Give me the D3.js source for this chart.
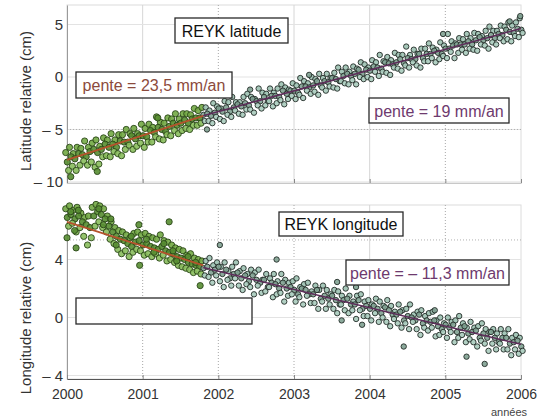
<!DOCTYPE html>
<html>
<head>
<meta charset="utf-8" />
<title>REYK latitude / longitude</title>
<script src="https://d3js.org/d3.v7.min.js"></script>
<style>
  body { margin: 0; background: #fff; }
  text { font-family: "Liberation Sans", Arial, Helvetica, sans-serif; }
</style>
</head>
<body>
<svg id="chart" width="552" height="420"></svg>
<script>
// years on the x axis
var years = [2000, 2001, 2002, 2003, 2004, 2005, 2006];
var latTicks = [5, 0, -5, -10];
var lonTicks = [4, 0, -4];

// readings taken every 0.05 yr from 2000.00 to 2006.00 (121 per band)
var firstYear = 2000, stepYear = 0.05;
// change of slope (green points before, grey points after)
var breakYear = 2001.8;

// latitude (cm): upper, middle and lower part of the cloud
var latA = [-7.2,-6.7,-7.3,-6.7,-6.8,-6.1,-6.7,-6.3,-6.0,-6.6,-5.8,-6.0,-5.4,-6.0,-5.5,-5.5,-5.0,-5.4,-4.9,-5.4,-4.5,-4.9,-4.5,-4.8,-3.8,-4.3,-4.4,-3.9,-4.0,-3.5,-4.0,-3.5,-3.5,-3.6,-3.0,-3.2,-2.9,
  -2.9,-3.2,-2.5,-2.8,-3.0,-2.3,-2.4,-1.9,-2.4,-2.4,-1.9,-1.6,-1.9,-2.1,-1.1,-1.5,-1.6,-1.1,-1.5,-1.1,-0.7,-1.0,-1.2,-0.6,-0.8,-0.1,-0.4,-0.6,0.0,-0.2,0.3,-0.1,0.3,-0.1,0.4,0.9,0.5,0.9,0.5,1.0,0.8,1.4,1.2,0.9,1.6,1.4,2.1,1.5,1.9,1.6,2.3,2.1,2.1,2.9,2.1,2.6,2.2,2.7,2.7,3.2,2.8,2.6,3.3,3.0,4.1,3.4,3.2,3.7,3.6,4.1,3.7,4.2,4.1,3.9,4.4,4.8,4.4,4.4,4.9,4.8,5.2,4.9,5.2,5.6];
var latB = [-8.1,-7.6,-7.8,-7.3,-7.4,-7.6,-7.1,-6.9,-7.2,-6.9,-6.4,-6.7,-6.4,-6.7,-6.1,-6.2,-6.2,-5.6,-5.9,-5.6,-5.6,-5.7,-5.1,-5.3,-4.8,-5.0,-5.2,-4.7,-4.4,-4.6,-4.4,-4.1,-4.4,-4.0,-3.9,-3.9,-3.6,
  -3.5,-3.7,-3.4,-3.0,-3.3,-2.9,-3.3,-2.9,-2.6,-2.8,-2.5,-2.7,-2.1,-2.3,-2.3,-1.9,-2.3,-1.8,-1.8,-1.9,-1.3,-1.6,-1.3,-1.3,-1.5,-0.9,-0.9,-1.0,-0.8,-0.4,-0.8,-0.4,-0.5,-0.1,-0.2,-0.4,0.1,0.3,0.1,0.3,0.7,0.3,0.7,0.6,1.0,0.9,0.8,1.4,1.3,1.2,1.4,1.7,1.3,1.8,1.7,1.7,2.2,1.8,2.2,2.2,2.5,2.3,2.2,2.7,2.7,3.0,3.1,3.1,3.1,3.4,3.1,3.5,3.8,3.5,3.7,4.0,3.7,4.1,4.0,4.5,4.3,4.2,4.6,4.5];
var latC = [-8.9,-8.5,-8.9,-8.4,-8.0,-8.4,-8.1,-8.6,-8.3,-7.6,-7.5,-7.6,-7.1,-7.3,-7.5,-6.9,-6.5,-6.9,-6.6,-6.3,-6.7,-6.2,-6.2,-5.7,-5.9,-6.0,-5.5,-5.6,-5.1,-5.4,-5.1,-4.9,-5.0,-4.6,-4.6,-4.4,-4.2,
  -4.2,-4.4,-3.8,-4.0,-4.2,-3.6,-3.8,-3.2,-3.5,-3.6,-3.1,-3.1,-3.4,-2.7,-3.0,-2.7,-2.3,-2.8,-2.5,-2.2,-2.6,-2.1,-1.8,-2.1,-1.7,-2.0,-1.3,-1.6,-1.4,-1.7,-1.0,-1.3,-0.9,-1.0,-1.1,-0.4,-0.6,-0.7,-0.3,-0.7,0.0,-0.2,0.0,-0.2,0.5,0.1,0.5,0.4,0.2,0.9,0.8,0.6,1.1,0.9,1.4,1.1,0.9,1.5,1.5,1.8,1.4,1.7,2.0,1.8,2.4,1.8,2.3,2.6,2.3,2.7,2.6,2.5,3.1,3.0,2.7,3.3,3.1,3.7,3.4,3.6,3.4,3.9,3.8,4.2];
// isolated latitude points [year, cm]
var latExtra = [[2000.05,-9.5],[2000.4,-9.0],[2001.2,-3.9],[2001.85,-5.0],[2002.42,-1.2],[2003.2,0.2],[2004.97,4.1],[2005.85,5.3],[2005.99,5.8]];

// longitude (cm)
var lonA = [7.5,7.7,7.4,7.6,7.2,6.9,7.0,7.6,7.8,7.7,7.5,7.0,6.6,6.2,6.0,5.9,5.7,5.5,5.8,5.9,5.7,5.8,5.6,5.5,5.4,5.7,5.3,5.2,5.0,4.8,4.7,4.6,4.3,4.4,4.1,4.0,3.9,
  3.9,4.1,3.6,3.8,3.5,3.8,3.2,3.5,3.8,3.2,3.4,3.0,3.3,3.1,3.3,2.6,3.0,2.7,3.0,2.5,3.0,2.6,2.4,2.5,2.7,2.1,2.3,2.4,1.8,2.2,1.9,2.2,1.9,1.6,1.9,1.8,1.5,2.0,1.5,1.1,1.5,1.6,1.1,1.2,0.9,1.3,1.1,0.8,1.2,0.8,0.4,0.9,0.5,0.6,0.9,0.2,0.4,0.5,0.1,0.3,0.4,-0.2,0.0,-0.4,0.0,-0.3,-0.2,0.1,-0.4,-0.7,-0.3,-0.7,-0.6,-0.4,-0.8,-1.0,-0.8,-1.1,-0.8,-1.1,-0.8,-1.4,-1.2,-1.4];
var lonB = [6.9,7.1,6.8,7.0,6.6,6.4,6.2,7.0,7.3,7.1,6.8,6.3,5.9,5.6,5.4,5.3,5.1,4.9,5.2,5.3,5.0,5.1,4.9,4.8,4.7,4.9,4.6,4.5,4.4,4.2,4.1,4.0,3.8,3.7,3.6,3.5,3.4,
  3.5,3.1,3.3,3.5,3.0,3.3,2.7,3.0,3.1,2.7,2.9,2.5,2.9,2.6,2.4,2.6,2.1,2.4,2.3,2.0,2.4,2.0,2.1,1.9,1.6,2.0,1.9,1.6,1.6,1.9,1.3,1.5,1.3,1.5,1.2,0.9,1.2,1.3,0.9,0.9,1.2,0.6,0.8,0.6,0.8,0.6,0.3,0.7,0.5,0.2,0.2,0.4,-0.2,0.1,0.0,-0.2,0.2,-0.4,-0.2,-0.3,-0.2,-0.6,-0.8,-0.5,-0.7,-0.5,-1.0,-0.7,-0.6,-1.1,-1.0,-0.9,-1.4,-1.1,-1.4,-1.0,-1.4,-1.7,-1.4,-1.4,-1.8,-1.7,-1.6,-2.0];
var lonC = [6.3,6.5,5.9,6.2,5.6,5.0,5.5,6.3,6.6,6.2,5.9,5.4,5.1,4.7,4.4,4.6,4.2,4.5,4.7,4.6,4.3,4.4,4.2,4.4,4.1,4.3,3.9,4.0,3.8,3.6,3.5,3.4,3.3,3.1,3.2,3.0,2.9,
  2.8,2.4,2.9,2.5,2.1,2.6,2.2,2.7,2.2,1.9,2.3,2.1,1.6,2.2,1.7,1.8,2.1,1.4,1.6,1.7,1.1,1.5,1.6,1.1,1.4,0.9,1.5,1.0,1.0,0.6,1.1,0.6,0.9,0.6,0.3,0.9,0.5,0.3,0.5,-0.1,0.5,0.1,0.1,-0.2,0.3,-0.3,0.0,-0.3,-0.6,-0.1,-0.4,-0.7,-0.4,-0.8,-0.3,-0.8,-1.2,-0.7,-0.9,-0.7,-1.3,-1.2,-1.0,-1.4,-1.0,-1.7,-1.4,-1.2,-1.7,-1.5,-1.7,-2.0,-1.6,-1.8,-2.3,-1.8,-2.2,-1.8,-2.2,-2.2,-2.6,-2.2,-2.5,-2.3];
var lonExtra = [[2000.0,5.5],[2000.05,7.3],[2000.1,6.0],[2000.12,4.8],[2000.15,7.4],[2000.42,7.5],[2000.48,6.4],[2000.58,6.8],[2000.65,5.0],[2000.85,5.6],[2000.95,6.4],[2000.96,3.6],[2001.05,5.4],[2001.15,4.5],[2001.28,5.1],[2001.35,6.6],[2001.4,4.6],[2001.45,3.9],[2001.6,4.2],[2001.7,3.8],
  [2001.76,2.2],[2002.02,5.0],[2002.77,4.0],[2003.57,2.45],[2003.82,2.1],[2003.63,-0.2],[2003.9,-0.5],[2004.45,-2.0],[2004.86,0.5],[2005.28,-2.7],[2005.52,-3.2]];

// fitted trends [year, cm]
var latFitEarly = [[2000, -7.9], [2001.8, -3.7]];
var latFitLate = [[2001.8, -3.7], [2006, 4.62]];
var lonFitEarly = [[2000, 6.6], [2001.8, 3.6]];
var lonFitLate = [[2001.8, 3.45], [2006, -1.85]];

var svg = d3.select("#chart");
svg.append("rect").attr("width", 552).attr("height", 420).attr("fill", "#fff");

var x = d3.scaleLinear().domain([2000, 2006]).range([67, 521]);

var makePoints = function(bands, extra) {
  var pts = [];
  var shift = [-0.017, 0.004, 0.021];
  bands.forEach(function(band, k) {
    band.forEach(function(v, i) {
      pts.push({ t: firstYear + i * stepYear + shift[k], v: v, k: k });
    });
  });
  extra.forEach(function(p) { pts.push({ t: p[0], v: p[1], k: 1 }); });
  return pts;
};

var greenFill = ["#72a944", "#578d31", "#88bd5c"];
var greyFill = ["#9cc1b1", "#7fa191", "#a9cbbd"];

var drawPanel = function(cfg) {
  var y = d3.scaleLinear().domain(cfg.domain).range([cfg.bottom, cfg.top]);
  var g = svg.append("g");

  // frame and grid
  g.append("rect")
    .attr("x", x(2000)).attr("y", cfg.top)
    .attr("width", x(2006) - x(2000)).attr("height", cfg.bottom - cfg.top)
    .attr("fill", "none").attr("stroke", "#dcdcdc");
  g.selectAll(".vgrid").data(years.slice(1, -1)).enter().append("line")
    .attr("x1", function(d) { return x(d); }).attr("x2", function(d) { return x(d); })
    .attr("y1", cfg.top).attr("y2", cfg.bottom)
    .attr("stroke", function(d) { return cfg.darkYears.indexOf(d) >= 0 ? "#a8a8a8" : "#d6d6d6"; })
    .attr("stroke-dasharray", function(d) { return cfg.darkYears.indexOf(d) >= 0 ? "1,2" : null; });
  g.selectAll(".hgrid").data(cfg.ticks).enter().append("line")
    .attr("x1", x(2000)).attr("x2", x(2006))
    .attr("y1", function(d) { return y(d); }).attr("y2", function(d) { return y(d); })
    .attr("stroke", "#e3e3e3");
  g.selectAll(".hdot").data(cfg.dotted).enter().append("line")
    .attr("x1", x(2000)).attr("x2", x(2006))
    .attr("y1", function(d) { return y(d); }).attr("y2", function(d) { return y(d); })
    .attr("stroke", "#b0b0b0").attr("stroke-dasharray", "1,2");

  // y axis
  var yAxis = d3.axisLeft(y).tickValues(cfg.ticks).tickSize(0).tickPadding(4)
    .tickFormat(function(d) { return d < 0 ? "\u2013 " + Math.abs(d) : d; });
  var ya = g.append("g").attr("transform", "translate(" + x(2000) + ",0)").call(yAxis);
  ya.select(".domain").attr("stroke", "#9a9a9a");
  ya.selectAll("text").attr("font-size", 15).attr("fill", "#333")
    .style("font-family", "'Liberation Sans', Arial, sans-serif");

  // x axis line
  var xAxis = d3.axisBottom(x).tickValues(years).tickSizeInner(-4).tickSizeOuter(0).tickPadding(10)
    .tickFormat(cfg.showYears ? d3.format("d") : "");
  var xa = g.append("g").attr("transform", "translate(0," + cfg.bottom + ")").call(xAxis);
  xa.select(".domain").attr("stroke", cfg.axisColor);
  xa.selectAll(".tick line").attr("stroke", "#888");
  xa.selectAll("text").attr("font-size", 14).attr("fill", "#333")
    .style("font-family", "'Liberation Sans', Arial, sans-serif");

  // points
  var pts = makePoints(cfg.bands, cfg.extra);
  g.selectAll(".pt").data(pts).enter().append("circle")
    .attr("cx", function(d) { return x(d.t); })
    .attr("cy", function(d) { return y(d.v); })
    .attr("r", function(d) { return d.t < breakYear ? 3.1 : 2.7; })
    .attr("fill", function(d) { return d.t < breakYear ? greenFill[d.k] : greyFill[d.k]; })
    .attr("stroke", function(d) { return d.t < breakYear ? "#2a4619" : "#232b27"; })
    .attr("stroke-width", 0.9)
    .attr("fill-opacity", 0.9);

  // trends
  var line = d3.line().x(function(d) { return x(d[0]); }).y(function(d) { return y(d[1]); });
  g.append("path").attr("d", line(cfg.fitEarly)).attr("fill", "none")
    .attr("stroke", "#b5532c").attr("stroke-width", 1.8);
  g.append("path").attr("d", line(cfg.fitLate)).attr("fill", "none")
    .attr("stroke", "#5e2c5a").attr("stroke-width", 1.5);

  // axis title
  g.append("text")
    .attr("transform", "translate(31," + cfg.titleY + ") rotate(-90)")
    .attr("text-anchor", "middle").attr("font-size", 15).attr("fill", "#333")
    .text(cfg.title);
};

drawPanel({
  domain: [-10.1, 6.86], top: 5, bottom: 183,
  ticks: latTicks, dotted: [-5], darkYears: [2002, 2005],
  bands: [latA, latB, latC], extra: latExtra,
  fitEarly: latFitEarly, fitLate: latFitLate,
  showYears: false, axisColor: "#c8c8c8",
  title: "Latitude relative (cm)", titleY: 101
});

drawPanel({
  domain: [-4.24, 7.76], top: 205, bottom: 379,
  ticks: lonTicks, dotted: [5.35], darkYears: [2001, 2002, 2003, 2005],
  bands: [lonA, lonB, lonC], extra: lonExtra,
  fitEarly: lonFitEarly, fitLate: lonFitLate,
  showYears: true, axisColor: "#555",
  title: "Longitude relative (cm)", titleY: 318
});

// annotation boxes
var boxes = [
  { x: 175, y: 18, w: 113, h: 25, text: "REYK latitude", color: "#111" },
  { x: 76, y: 72, w: 156, h: 26, text: "pente = 23,5 mm/an", color: "#8c4a3c" },
  { x: 369, y: 98, w: 140, h: 25, text: "pente = 19 mm/an", color: "#6e3a6e" },
  { x: 279, y: 212, w: 124, h: 24, text: "REYK longitude", color: "#111" },
  { x: 346, y: 260, w: 163, h: 25, text: "pente = \u2013 11,3 mm/an", color: "#6e3a6e" },
  { x: 76, y: 298, w: 176, h: 26, text: "", color: "#111" }
];
var bx = svg.selectAll(".box").data(boxes).enter().append("g");
bx.append("rect")
  .attr("x", function(d) { return d.x; }).attr("y", function(d) { return d.y; })
  .attr("width", function(d) { return d.w; }).attr("height", function(d) { return d.h; })
  .attr("fill", "#fff").attr("stroke", "#2a2a2a").attr("stroke-width", 1.3);
bx.append("text")
  .attr("x", function(d) { return d.x + d.w / 2; })
  .attr("y", function(d) { return d.y + d.h / 2 + 6; })
  .attr("text-anchor", "middle").attr("font-size", 16)
  .attr("fill", function(d) { return d.color; })
  .text(function(d) { return d.text; });

svg.append("text").attr("x", 509).attr("y", 416).attr("text-anchor", "middle")
  .attr("font-size", 11).attr("fill", "#444").text("années");
</script>
</body>
</html>
